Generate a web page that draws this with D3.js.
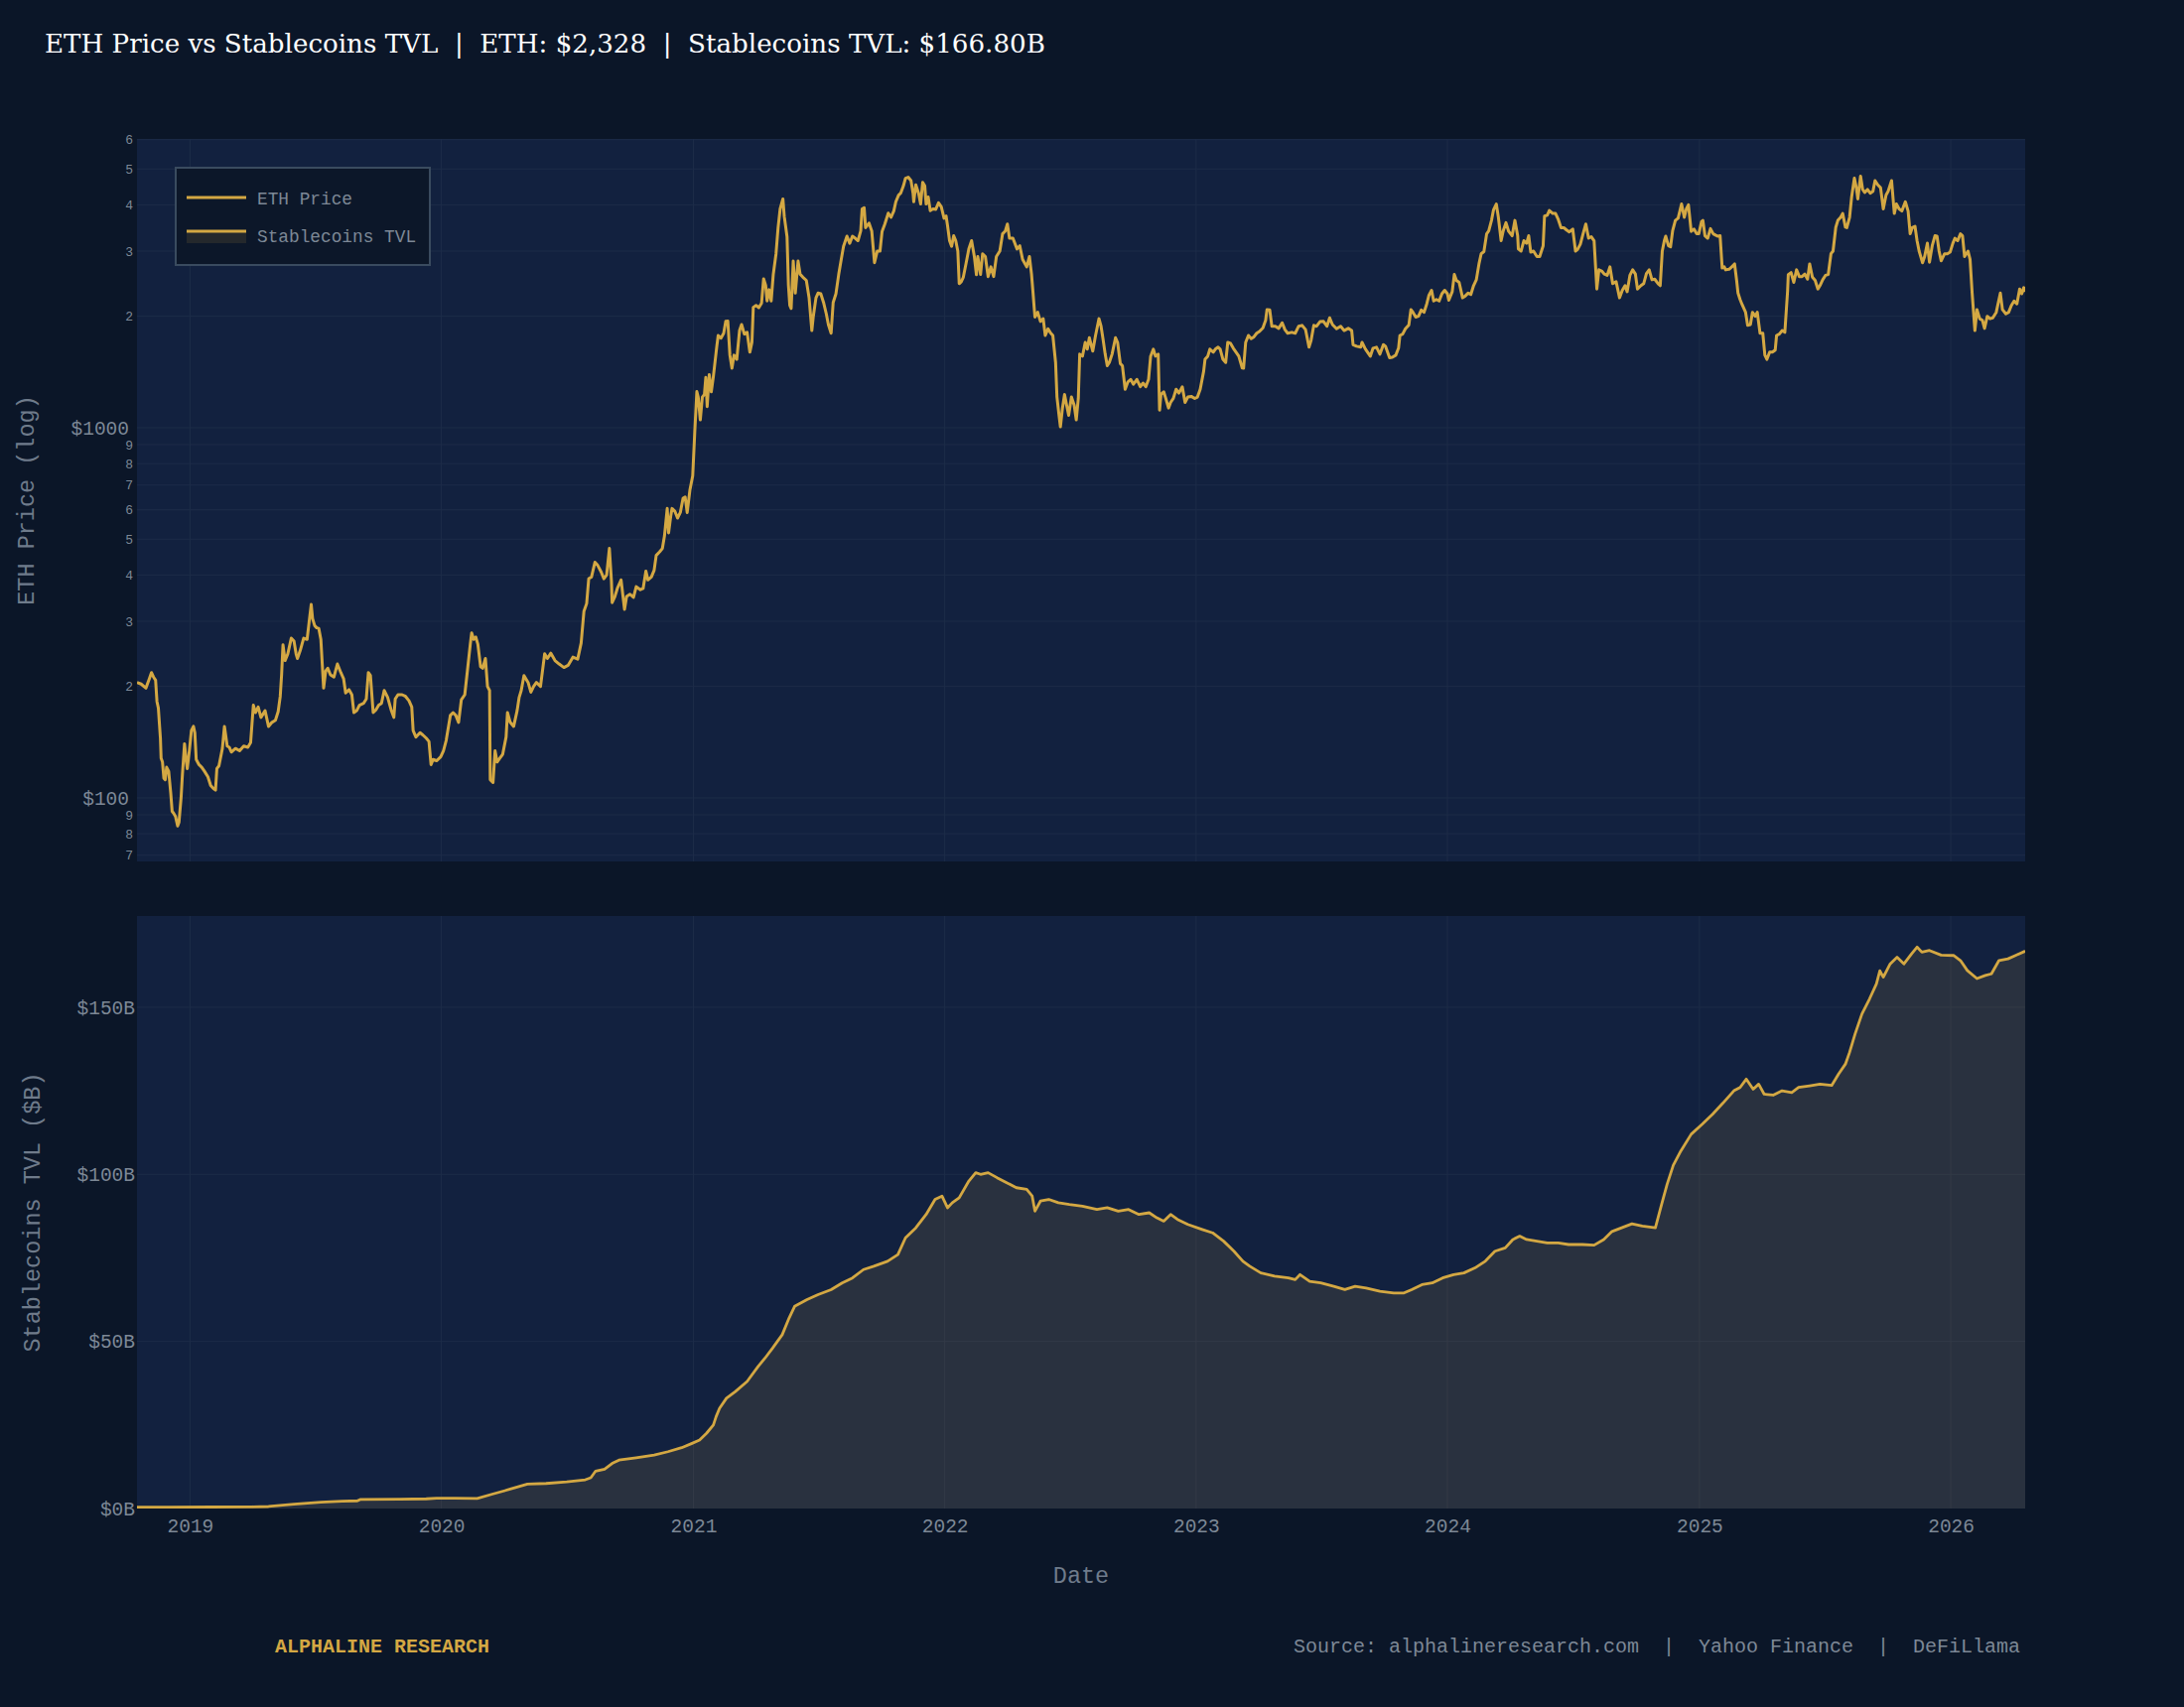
<!doctype html>
<html lang="en">
<head>
    <meta charset="UTF-8">
    <title>ETH Price vs Stablecoins TVL</title>
    <script src="https://d3js.org/d3.v7.min.js"></script>
    <style>
      html, body { margin: 0; padding: 0; background: #0b1628; }
    </style>
</head>
<body>
    <div id="chart"></div>

    <script>

      // ETH close price (USD)
      const ethPrice = [
        ["2018-10-16",205],["2018-10-22",203],["2018-10-29",198],["2018-11-03",210],["2018-11-06",218],["2018-11-09",212],
        ["2018-11-12",208],["2018-11-14",182],["2018-11-16",175],["2018-11-19",145],["2018-11-20",128],["2018-11-22",125],
        ["2018-11-24",113],["2018-11-26",112],["2018-11-28",121],["2018-12-01",118],["2018-12-04",103],["2018-12-06",92],
        ["2018-12-08",91],["2018-12-11",89],["2018-12-14",84],["2018-12-16",86],["2018-12-19",100],["2018-12-21",116],
        ["2018-12-24",140],["2018-12-26",128],["2018-12-28",120],["2018-12-31",134],
        ["2019-01-03",152],["2019-01-06",156],["2019-01-08",150],["2019-01-10",127],["2019-01-14",123],["2019-01-18",121],
        ["2019-01-22",118],["2019-01-27",114],["2019-01-31",108],["2019-02-04",106],["2019-02-07",105],["2019-02-09",120],
        ["2019-02-12",122],["2019-02-17",136],["2019-02-20",156],["2019-02-24",138],["2019-02-27",137],["2019-03-02",133],
        ["2019-03-08",136],["2019-03-14",134],["2019-03-20",138],["2019-03-26",137],["2019-03-30",141],["2019-04-03",178],
        ["2019-04-06",170],["2019-04-10",176],["2019-04-14",165],["2019-04-20",172],["2019-04-25",156],["2019-04-30",160],
        ["2019-05-05",162],["2019-05-09",171],["2019-05-12",188],["2019-05-14",215],["2019-05-16",259],["2019-05-19",235],
        ["2019-05-23",245],["2019-05-28",270],["2019-06-01",265],["2019-06-04",245],["2019-06-06",238],["2019-06-10",250],
        ["2019-06-15",270],["2019-06-20",268],["2019-06-24",310],["2019-06-26",333],["2019-06-28",305],["2019-07-01",292],
        ["2019-07-04",288],["2019-07-07",287],["2019-07-10",268],["2019-07-14",198],["2019-07-17",220],["2019-07-20",224],
        ["2019-07-24",215],["2019-07-29",212],["2019-08-03",230],["2019-08-08",218],["2019-08-12",210],["2019-08-15",192],
        ["2019-08-20",196],["2019-08-24",190],["2019-08-27",170],["2019-08-31",172],["2019-09-04",178],["2019-09-10",180],
        ["2019-09-14",185],["2019-09-17",218],["2019-09-20",214],["2019-09-24",170],["2019-09-28",173],["2019-10-02",178],
        ["2019-10-06",180],["2019-10-10",195],["2019-10-15",187],["2019-10-20",173],["2019-10-24",165],["2019-10-26",185],
        ["2019-10-30",190],["2019-11-05",190],["2019-11-10",188],["2019-11-15",183],["2019-11-19",176],["2019-11-21",152],
        ["2019-11-25",146],["2019-12-01",150],["2019-12-05",148],["2019-12-10",145],["2019-12-14",142],["2019-12-17",123],
        ["2019-12-20",127],["2019-12-25",126],["2019-12-31",129],
        ["2020-01-04",134],["2020-01-08",143],["2020-01-14",167],["2020-01-18",170],["2020-01-22",167],["2020-01-26",160],
        ["2020-01-30",184],["2020-02-04",190],["2020-02-08",222],["2020-02-12",260],["2020-02-14",279],["2020-02-17",268],
        ["2020-02-20",272],["2020-02-23",260],["2020-02-27",226],["2020-03-01",224],["2020-03-05",238],["2020-03-08",200],
        ["2020-03-11",195],["2020-03-12",112],["2020-03-16",110],["2020-03-19",134],["2020-03-22",125],["2020-03-26",128],
        ["2020-03-30",131],["2020-04-04",146],["2020-04-06",170],["2020-04-10",160],["2020-04-15",156],["2020-04-20",172],
        ["2020-04-23",187],["2020-04-26",195],["2020-04-30",214],["2020-05-06",205],["2020-05-10",193],["2020-05-14",200],
        ["2020-05-18",205],["2020-05-24",200],["2020-05-30",245],["2020-06-03",238],["2020-06-08",246],["2020-06-14",235],
        ["2020-06-20",230],["2020-06-27",225],["2020-07-03",228],["2020-07-10",240],["2020-07-17",237],["2020-07-22",262],
        ["2020-07-26",319],["2020-07-30",335],["2020-08-02",391],["2020-08-06",395],["2020-08-11",433],["2020-08-15",425],
        ["2020-08-20",408],["2020-08-24",391],["2020-08-28",400],["2020-09-01",472],["2020-09-04",385],["2020-09-05",337],
        ["2020-09-09",350],["2020-09-13",370],["2020-09-18",388],["2020-09-23",323],["2020-09-26",350],["2020-10-01",355],
        ["2020-10-06",348],["2020-10-10",372],["2020-10-16",365],["2020-10-20",368],["2020-10-24",410],["2020-10-27",388],
        ["2020-11-01",395],["2020-11-05",412],["2020-11-08",452],["2020-11-13",462],["2020-11-17",472],["2020-11-20",510],
        ["2020-11-24",605],["2020-11-26",520],["2020-11-29",575],["2020-12-01",605],["2020-12-05",595],["2020-12-09",570],
        ["2020-12-13",590],["2020-12-17",645],["2020-12-20",650],["2020-12-23",590],["2020-12-27",680],["2020-12-31",741],
        ["2021-01-03",975],["2021-01-06",1252],["2021-01-08",1210],["2021-01-11",1050],["2021-01-14",1210],["2021-01-17",1230],
        ["2021-01-19",1367],["2021-01-21",1140],["2021-01-24",1390],["2021-01-27",1250],["2021-01-30",1375],["2021-02-04",1660],
        ["2021-02-06",1775],["2021-02-10",1745],["2021-02-14",1800],["2021-02-17",1937],["2021-02-20",1940],["2021-02-23",1570],
        ["2021-02-26",1448],["2021-03-01",1570],["2021-03-05",1530],["2021-03-09",1830],["2021-03-12",1900],["2021-03-16",1790],
        ["2021-03-20",1810],["2021-03-24",1600],["2021-03-27",1700],["2021-03-29",2115],["2021-04-02",2140],["2021-04-06",2110],
        ["2021-04-10",2170],["2021-04-13",2525],["2021-04-16",2420],["2021-04-18",2200],["2021-04-21",2360],["2021-04-24",2200],
        ["2021-04-27",2593],["2021-05-01",2950],["2021-05-04",3470],["2021-05-07",3900],["2021-05-11",4150],["2021-05-13",3720],
        ["2021-05-17",3280],["2021-05-19",2430],["2021-05-21",2140],["2021-05-23",2100],["2021-05-26",2820],["2021-05-29",2310],
        ["2021-06-02",2820],["2021-06-05",2600],["2021-06-09",2550],["2021-06-14",2500],["2021-06-18",2243],["2021-06-22",1830],
        ["2021-06-24",1990],["2021-06-28",2243],["2021-07-01",2310],["2021-07-05",2300],["2021-07-09",2180],["2021-07-13",2030],
        ["2021-07-16",1900],["2021-07-20",1800],["2021-07-23",2180],["2021-07-27",2300],["2021-07-31",2593],["2021-08-03",2800],
        ["2021-08-07",3090],["2021-08-12",3290],["2021-08-16",3150],["2021-08-20",3290],["2021-08-24",3250],["2021-08-28",3200],
        ["2021-09-01",3400],["2021-09-03",3900],["2021-09-06",3930],["2021-09-08",3470],["2021-09-13",3570],["2021-09-17",3400],
        ["2021-09-21",2790],["2021-09-25",3000],["2021-09-29",3000],["2021-10-02",3390],["2021-10-06",3550],["2021-10-11",3800],
        ["2021-10-15",3700],["2021-10-19",3850],["2021-10-22",4077],["2021-10-26",4250],["2021-10-29",4300],["2021-11-02",4500],
        ["2021-11-05",4720],["2021-11-09",4750],["2021-11-13",4650],["2021-11-16",4300],["2021-11-17",4077],["2021-11-20",4530],
        ["2021-11-24",4300],["2021-11-27",4020],["2021-11-30",4600],["2021-12-03",4500],["2021-12-05",4020],["2021-12-08",4200],
        ["2021-12-11",3860],["2021-12-15",3900],["2021-12-19",3890],["2021-12-23",4050],["2021-12-27",3950],["2021-12-31",3680],
        ["2022-01-03",3730],["2022-01-05",3520],["2022-01-08",3200],["2022-01-11",3090],["2022-01-14",3300],["2022-01-17",3200],
        ["2022-01-20",3000],["2022-01-22",2450],["2022-01-25",2480],["2022-01-28",2550],["2022-02-01",2780],["2022-02-05",3040],
        ["2022-02-09",3200],["2022-02-13",2900],["2022-02-16",2590],["2022-02-18",2900],["2022-02-22",2593],["2022-02-25",2950],
        ["2022-03-01",2900],["2022-03-05",2560],["2022-03-09",2720],["2022-03-13",2560],["2022-03-17",2900],["2022-03-22",3000],
        ["2022-03-26",3340],["2022-03-30",3400],["2022-04-02",3550],["2022-04-05",3250],["2022-04-10",3250],["2022-04-16",3040],
        ["2022-04-20",3100],["2022-04-24",2850],["2022-04-30",2720],["2022-05-04",2900],["2022-05-07",2600],["2022-05-09",2345],
        ["2022-05-11",2100],["2022-05-12",1990],["2022-05-16",2050],["2022-05-20",1937],["2022-05-24",1970],["2022-05-27",1775],
        ["2022-05-31",1850],["2022-06-04",1800],["2022-06-07",1775],["2022-06-11",1500],["2022-06-13",1210],["2022-06-16",1080],
        ["2022-06-18",1006],["2022-06-21",1130],["2022-06-24",1230],["2022-06-27",1150],["2022-06-30",1080],["2022-07-04",1210],
        ["2022-07-08",1150],["2022-07-11",1050],["2022-07-14",1200],["2022-07-16",1580],["2022-07-20",1560],["2022-07-24",1700],
        ["2022-07-27",1630],["2022-07-30",1750],["2022-08-04",1610],["2022-08-08",1775],["2022-08-13",1970],["2022-08-16",1880],
        ["2022-08-19",1730],["2022-08-22",1580],["2022-08-25",1470],["2022-08-28",1500],["2022-09-01",1580],["2022-09-06",1750],
        ["2022-09-09",1700],["2022-09-13",1490],["2022-09-16",1470],["2022-09-20",1270],["2022-09-24",1330],["2022-09-28",1350],
        ["2022-10-02",1310],["2022-10-07",1350],["2022-10-12",1290],["2022-10-16",1320],["2022-10-20",1290],["2022-10-24",1350],
        ["2022-10-27",1560],["2022-10-31",1630],["2022-11-03",1560],["2022-11-07",1580],["2022-11-09",1115],["2022-11-11",1230],
        ["2022-11-15",1250],["2022-11-18",1200],["2022-11-22",1130],["2022-11-25",1170],["2022-11-29",1200],["2022-12-03",1270],
        ["2022-12-07",1240],["2022-12-12",1290],["2022-12-16",1170],["2022-12-20",1210],["2022-12-25",1215],["2022-12-30",1200],
        ["2023-01-03",1210],["2023-01-07",1270],["2023-01-12",1420],["2023-01-14",1530],["2023-01-18",1560],["2023-01-21",1630],
        ["2023-01-26",1600],["2023-01-29",1630],["2023-02-02",1650],["2023-02-05",1630],["2023-02-09",1530],["2023-02-13",1500],
        ["2023-02-16",1700],["2023-02-20",1690],["2023-02-24",1640],["2023-02-28",1600],["2023-03-04",1560],["2023-03-09",1450],
        ["2023-03-11",1448],["2023-03-14",1700],["2023-03-18",1775],["2023-03-22",1740],["2023-03-26",1760],["2023-03-30",1800],
        ["2023-04-03",1820],["2023-04-08",1860],["2023-04-12",1950],["2023-04-14",2085],["2023-04-18",2080],["2023-04-21",1880],
        ["2023-04-26",1880],["2023-05-01",1855],["2023-05-06",1920],["2023-05-10",1840],["2023-05-14",1800],["2023-05-20",1810],
        ["2023-05-25",1800],["2023-05-30",1880],["2023-06-04",1890],["2023-06-09",1840],["2023-06-14",1650],["2023-06-17",1720],
        ["2023-06-21",1890],["2023-06-25",1880],["2023-06-30",1935],["2023-07-05",1937],["2023-07-10",1880],["2023-07-14",1980],
        ["2023-07-18",1900],["2023-07-24",1850],["2023-07-30",1880],["2023-08-04",1830],["2023-08-10",1855],["2023-08-15",1830],
        ["2023-08-17",1676],["2023-08-22",1660],["2023-08-28",1650],["2023-08-30",1700],["2023-09-04",1630],["2023-09-11",1560],
        ["2023-09-15",1640],["2023-09-20",1650],["2023-09-25",1580],["2023-09-30",1676],["2023-10-03",1660],["2023-10-09",1545],
        ["2023-10-13",1550],["2023-10-18",1570],["2023-10-22",1640],["2023-10-24",1775],["2023-10-28",1790],["2023-11-01",1850],
        ["2023-11-06",1895],["2023-11-09",2085],["2023-11-12",2050],["2023-11-16",1990],["2023-11-20",2000],["2023-11-24",2080],
        ["2023-11-28",2050],["2023-12-02",2160],["2023-12-05",2275],["2023-12-09",2350],["2023-12-12",2200],["2023-12-16",2220],
        ["2023-12-20",2200],["2023-12-24",2300],["2023-12-28",2350],
        ["2024-01-01",2300],["2024-01-03",2210],["2024-01-08",2330],["2024-01-11",2593],["2024-01-14",2500],["2024-01-18",2470],
        ["2024-01-23",2243],["2024-01-27",2270],["2024-01-31",2310],["2024-02-04",2290],["2024-02-08",2420],["2024-02-12",2510],
        ["2024-02-16",2780],["2024-02-19",2950],["2024-02-23",2990],["2024-02-27",3340],["2024-03-01",3400],["2024-03-05",3630],
        ["2024-03-08",3880],["2024-03-12",4020],["2024-03-15",3700],["2024-03-19",3200],["2024-03-22",3400],["2024-03-26",3580],
        ["2024-03-30",3390],["2024-04-04",3300],["2024-04-08",3630],["2024-04-12",3300],["2024-04-13",3040],["2024-04-17",3000],
        ["2024-04-21",3200],["2024-04-25",3150],["2024-04-28",3300],["2024-05-01",2980],["2024-05-05",3000],["2024-05-10",2900],
        ["2024-05-14",2900],["2024-05-19",3100],["2024-05-21",3730],["2024-05-25",3750],["2024-05-28",3860],["2024-06-02",3790],
        ["2024-06-06",3790],["2024-06-10",3650],["2024-06-14",3470],["2024-06-18",3470],["2024-06-22",3420],["2024-06-26",3380],
        ["2024-07-01",3440],["2024-07-05",3000],["2024-07-08",3030],["2024-07-12",3130],["2024-07-16",3340],["2024-07-20",3550],
        ["2024-07-24",3250],["2024-07-28",3280],["2024-08-01",3200],["2024-08-05",2370],["2024-08-08",2670],["2024-08-12",2650],
        ["2024-08-16",2600],["2024-08-20",2580],["2024-08-24",2720],["2024-08-28",2450],["2024-09-02",2480],["2024-09-07",2243],
        ["2024-09-11",2350],["2024-09-15",2420],["2024-09-18",2330],["2024-09-22",2580],["2024-09-26",2670],["2024-09-30",2600],
        ["2024-10-03",2370],["2024-10-08",2420],["2024-10-12",2450],["2024-10-16",2610],["2024-10-20",2670],["2024-10-24",2510],
        ["2024-10-28",2520],["2024-11-02",2450],["2024-11-05",2420],["2024-11-08",3000],["2024-11-11",3200],["2024-11-13",3290],
        ["2024-11-17",3100],["2024-11-20",3080],["2024-11-23",3400],["2024-11-27",3630],["2024-12-01",3680],["2024-12-06",4020],
        ["2024-12-10",3700],["2024-12-13",3900],["2024-12-16",4000],["2024-12-20",3390],["2024-12-24",3440],["2024-12-28",3340],
        ["2024-12-31",3340],
        ["2025-01-04",3600],["2025-01-06",3630],["2025-01-09",3300],["2025-01-13",3250],["2025-01-17",3450],["2025-01-21",3340],
        ["2025-01-25",3310],["2025-01-28",3290],["2025-01-31",3300],["2025-02-03",2700],["2025-02-06",2720],["2025-02-08",2670],
        ["2025-02-13",2680],["2025-02-17",2720],["2025-02-21",2770],["2025-02-24",2500],["2025-02-26",2310],["2025-03-01",2220],
        ["2025-03-04",2150],["2025-03-09",2050],["2025-03-12",1890],["2025-03-16",1900],["2025-03-19",2050],["2025-03-23",2000],
        ["2025-03-26",2050],["2025-03-30",1800],["2025-04-03",1800],["2025-04-06",1570],["2025-04-09",1530],["2025-04-13",1600],
        ["2025-04-17",1600],["2025-04-21",1620],["2025-04-23",1775],["2025-04-27",1790],["2025-05-01",1830],["2025-05-05",1810],
        ["2025-05-09",2340],["2025-05-10",2593],["2025-05-14",2625],["2025-05-18",2470],["2025-05-22",2670],["2025-05-26",2560],
        ["2025-05-30",2560],["2025-06-03",2600],["2025-06-07",2520],["2025-06-10",2770],["2025-06-14",2550],["2025-06-18",2500],
        ["2025-06-22",2370],["2025-06-25",2420],["2025-06-29",2510],["2025-07-03",2580],["2025-07-07",2593],["2025-07-11",2950],
        ["2025-07-14",3000],["2025-07-18",3480],["2025-07-21",3630],["2025-07-25",3700],["2025-07-28",3790],["2025-08-01",3480],
        ["2025-08-03",3470],["2025-08-07",3700],["2025-08-10",4200],["2025-08-14",4720],["2025-08-17",4430],["2025-08-19",4150],
        ["2025-08-23",4780],["2025-08-26",4400],["2025-08-29",4320],["2025-09-02",4400],["2025-09-06",4300],["2025-09-10",4350],
        ["2025-09-13",4650],["2025-09-17",4530],["2025-09-21",4450],["2025-09-25",3900],["2025-09-29",4250],["2025-10-02",4350],
        ["2025-10-07",4650],["2025-10-11",3790],["2025-10-14",4020],["2025-10-18",3900],["2025-10-22",3850],["2025-10-27",4077],
        ["2025-10-31",3850],["2025-11-03",3340],["2025-11-06",3470],["2025-11-10",3500],["2025-11-13",3200],["2025-11-16",3000],
        ["2025-11-21",2790],["2025-11-24",2900],["2025-11-28",3150],["2025-12-01",2800],["2025-12-05",3100],["2025-12-09",3300],
        ["2025-12-12",3290],["2025-12-15",3000],["2025-12-18",2825],["2025-12-23",2950],["2025-12-27",2950],["2025-12-31",2980],
        ["2026-01-04",3150],["2026-01-07",3250],["2026-01-11",3200],["2026-01-15",3340],["2026-01-18",3300],["2026-01-21",2900],
        ["2026-01-26",3000],["2026-01-29",2850],["2026-02-01",2310],["2026-02-05",1830],["2026-02-08",2085],["2026-02-12",1970],
        ["2026-02-16",1950],["2026-02-19",1855],["2026-02-23",2000],["2026-02-27",1970],["2026-03-03",1980],["2026-03-08",2050],
        ["2026-03-14",2310],["2026-03-17",2085],["2026-03-22",2030],["2026-03-26",2050],["2026-03-30",2140],["2026-04-03",2200],
        ["2026-04-07",2160],["2026-04-11",2370],["2026-04-14",2300],["2026-04-17",2390],["2026-04-19",2328]
      ];

      // Stablecoins TVL ($B)
      const tvlBillions = [
        ["2018-10-16",0.4],["2018-12-01",0.4],["2019-02-01",0.45],["2019-04-01",0.5],["2019-04-25",0.6],["2019-06-01",1.3],
        ["2019-07-10",1.9],["2019-08-10",2.2],["2019-09-01",2.3],["2019-09-05",2.7],["2019-11-01",2.8],["2019-12-10",2.9],
        ["2019-12-25",3.1],["2020-01-20",3.1],["2020-02-22",3.0],["2020-03-15",4.3],["2020-04-10",5.8],["2020-05-05",7.3],
        ["2020-06-01",7.5],["2020-07-01",8.0],["2020-07-28",8.6],["2020-08-05",9.2],["2020-08-12",11.2],["2020-08-25",11.8],
        ["2020-09-05",13.5],["2020-09-15",14.5],["2020-10-10",15.2],["2020-11-05",16.0],["2020-11-25",17.0],["2020-12-15",18.2],
        ["2020-12-30",19.5],["2021-01-10",20.5],["2021-01-20",22.5],["2021-01-30",25.0],["2021-02-03",27.5],["2021-02-08",30.0],
        ["2021-02-18",33.0],["2021-03-03",35.0],["2021-03-20",38.0],["2021-04-05",42.5],["2021-04-15",45.0],["2021-04-26",48.0],
        ["2021-05-10",52.0],["2021-05-20",57.0],["2021-05-28",60.5],["2021-06-15",62.5],["2021-07-01",64.0],["2021-07-20",65.5],
        ["2021-08-05",67.5],["2021-08-20",69.0],["2021-09-05",71.5],["2021-09-20",72.5],["2021-10-10",74.0],["2021-10-25",76.0],
        ["2021-11-05",81.0],["2021-11-20",84.0],["2021-12-05",88.0],["2021-12-18",92.5],["2021-12-28",93.5],["2022-01-05",90.0],
        ["2022-01-12",91.5],["2022-01-22",93.0],["2022-02-05",98.0],["2022-02-15",100.5],["2022-02-22",100.0],["2022-03-05",100.5],
        ["2022-03-18",99.0],["2022-04-01",97.5],["2022-04-15",96.0],["2022-04-30",95.5],["2022-05-08",93.5],["2022-05-12",89.0],
        ["2022-05-20",92.0],["2022-06-01",92.5],["2022-06-15",91.5],["2022-07-01",91.0],["2022-07-20",90.5],["2022-08-10",89.5],
        ["2022-08-25",90.0],["2022-09-10",89.0],["2022-09-25",89.5],["2022-10-10",88.0],["2022-10-25",88.5],["2022-11-05",87.0],
        ["2022-11-15",86.0],["2022-11-25",88.0],["2022-12-05",86.5],["2022-12-20",85.0],["2023-01-10",83.5],["2023-01-25",82.5],
        ["2023-02-10",80.0],["2023-02-25",77.0],["2023-03-10",74.0],["2023-03-20",72.5],["2023-04-05",70.5],["2023-04-25",69.5],
        ["2023-05-15",69.0],["2023-05-25",68.5],["2023-06-01",70.0],["2023-06-15",68.0],["2023-07-01",67.5],["2023-07-20",66.5],
        ["2023-08-05",65.5],["2023-08-20",66.5],["2023-09-05",66.0],["2023-09-25",65.0],["2023-10-15",64.5],["2023-10-30",64.5],
        ["2023-11-10",65.5],["2023-11-25",67.0],["2023-12-10",67.5],["2023-12-25",69.0],["2024-01-10",70.0],["2024-01-25",70.5],
        ["2024-02-10",72.0],["2024-02-25",74.0],["2024-03-10",77.0],["2024-03-25",78.0],["2024-04-05",80.5],["2024-04-15",81.5],
        ["2024-04-25",80.5],["2024-05-10",80.0],["2024-05-25",79.5],["2024-06-10",79.5],["2024-06-25",79.0],["2024-07-15",79.0],
        ["2024-08-01",78.8],["2024-08-15",80.5],["2024-08-27",82.9],["2024-09-10",84.0],["2024-09-25",85.2],["2024-10-10",84.5],
        ["2024-10-29",84.0],["2024-11-07",91.0],["2024-11-15",97.0],["2024-11-24",102.7],["2024-12-05",107.0],["2024-12-20",112.0],
        ["2025-01-05",115.0],["2025-01-20",118.0],["2025-02-04",121.3],["2025-02-20",125.0],["2025-03-01",126.0],["2025-03-10",128.5],
        ["2025-03-20",125.5],["2025-03-28",127.0],["2025-04-05",124.0],["2025-04-18",123.7],["2025-05-01",125.0],["2025-05-15",124.5],
        ["2025-05-25",126.0],["2025-06-10",126.5],["2025-06-25",127.0],["2025-07-12",126.6],["2025-07-22",130.0],["2025-08-01",133.0],
        ["2025-08-07",136.5],["2025-08-15",142.0],["2025-08-25",148.0],["2025-09-05",152.5],["2025-09-15",157.0],["2025-09-20",160.9],
        ["2025-09-25",159.0],["2025-10-05",163.0],["2025-10-15",165.0],["2025-10-25",163.0],["2025-11-05",166.0],["2025-11-13",168.0],
        ["2025-11-20",166.5],["2025-12-01",167.0],["2025-12-18",165.6],["2026-01-05",165.5],["2026-01-15",164.0],["2026-01-25",161.0],
        ["2026-02-08",158.6],["2026-02-20",159.5],["2026-03-01",160.0],["2026-03-12",164.0],["2026-03-25",164.5],["2026-04-05",165.5],
        ["2026-04-19",166.8]
      ];

      const ethMajorTicks = [100, 1000];
      const tvlTicks = [0, 50, 100, 150];
      const titleText = "ETH Price vs Stablecoins TVL  |  ETH: $2,328  |  Stablecoins TVL: $166.80B";
      const sourceText = "Source: alphalineresearch.com  |  Yahoo Finance  |  DeFiLlama";

      // Colours
      const bgColor = '#0b1628';
      const plotBg = '#12213f';
      const gridColor = '#1d2c48';
      const gold = '#d4a843';
      const tickColor = '#7d8896';
      const mono = "'Liberation Mono', 'Courier New', monospace";

      // Layout
      const width = 2200, height = 1720;
      const left = 138, right = 2040;
      const top1 = 140, bottom1 = 868;
      const top2 = 923, bottom2 = 1520;

      const parseDate = d3.timeParse('%Y-%m-%d');
      const eth = ethPrice.map(d => ({ date: parseDate(d[0]), value: d[1] }));
      const tvl = tvlBillions.map(d => ({ date: parseDate(d[0]), value: d[1] }));

      const x = d3.scaleTime()
          .domain([eth[0].date, eth[eth.length - 1].date])
          .range([left, right]);

      const yEth = d3.scaleLog()
          .domain([67.35, 6026])
          .range([bottom1, top1]);

      const yTvl = d3.scaleLinear()
          .domain([0, 177.3])
          .range([bottom2, top2]);

      const svg = d3.select('#chart')
          .append('svg')
          .attr('width', width)
          .attr('height', height)
          .style('display', 'block');

      svg.append('rect')
          .attr('width', width)
          .attr('height', height)
          .attr('fill', bgColor);

      // Plot backgrounds
      svg.append('rect')
          .attr('x', left).attr('y', top1)
          .attr('width', right - left).attr('height', bottom1 - top1)
          .attr('fill', plotBg);
      svg.append('rect')
          .attr('x', left).attr('y', top2)
          .attr('width', right - left).attr('height', bottom2 - top2)
          .attr('fill', plotBg);

      const defs = svg.append('defs');
      defs.append('clipPath').attr('id', 'clip1')
          .append('rect').attr('x', left).attr('y', top1)
          .attr('width', right - left).attr('height', bottom1 - top1);
      defs.append('clipPath').attr('id', 'clip2')
          .append('rect').attr('x', left).attr('y', top2 - 2)
          .attr('width', right - left).attr('height', bottom2 - top2 + 2);

      const yearTicks = x.ticks(d3.timeYear.every(1));
      const ethTicks = yEth.ticks();

      // Gridlines, top panel
      svg.append('g')
          .selectAll('line')
          .data(ethTicks)
          .join('line')
          .attr('x1', left).attr('x2', right)
          .attr('y1', d => yEth(d)).attr('y2', d => yEth(d))
          .attr('stroke', gridColor).attr('stroke-width', 1);
      svg.append('g')
          .selectAll('line')
          .data(yearTicks)
          .join('line')
          .attr('x1', d => x(d)).attr('x2', d => x(d))
          .attr('y1', top1).attr('y2', bottom1)
          .attr('stroke', gridColor).attr('stroke-width', 1);

      // Gridlines, bottom panel
      svg.append('g')
          .selectAll('line')
          .data(tvlTicks.slice(1))
          .join('line')
          .attr('x1', left).attr('x2', right)
          .attr('y1', d => yTvl(d)).attr('y2', d => yTvl(d))
          .attr('stroke', gridColor).attr('stroke-width', 1);
      svg.append('g')
          .selectAll('line')
          .data(yearTicks)
          .join('line')
          .attr('x1', d => x(d)).attr('x2', d => x(d))
          .attr('y1', top2).attr('y2', bottom2)
          .attr('stroke', gridColor).attr('stroke-width', 1);

      // ETH line
      const ethLine = d3.line()
          .x(d => x(d.date))
          .y(d => yEth(d.value));

      svg.append('path')
          .datum(eth)
          .attr('clip-path', 'url(#clip1)')
          .attr('fill', 'none')
          .attr('stroke', gold)
          .attr('stroke-width', 3)
          .attr('stroke-linejoin', 'round')
          .attr('d', ethLine);

      // TVL area + line
      const tvlArea = d3.area()
          .x(d => x(d.date))
          .y0(yTvl(0))
          .y1(d => yTvl(d.value));
      const tvlLine = d3.line()
          .x(d => x(d.date))
          .y(d => yTvl(d.value));

      svg.append('path')
          .datum(tvl)
          .attr('clip-path', 'url(#clip2)')
          .attr('fill', 'rgba(212,168,67,0.12)')
          .attr('d', tvlArea);
      svg.append('path')
          .datum(tvl)
          .attr('clip-path', 'url(#clip2)')
          .attr('fill', 'none')
          .attr('stroke', gold)
          .attr('stroke-width', 2.8)
          .attr('stroke-linejoin', 'round')
          .attr('d', tvlLine);

      // Y axis, top (log)
      const isMajor = d => ethMajorTicks.includes(d);
      const yAxis1 = svg.append('g')
          .attr('transform', `translate(${left},0)`)
          .call(d3.axisLeft(yEth)
              .tickValues(ethTicks)
              .tickSize(0)
              .tickPadding(0)
              .tickFormat(d => isMajor(d) ? '$' + d : String(d).charAt(0)));
      yAxis1.select('.domain').remove();
      yAxis1.selectAll('text')
          .attr('x', d => isMajor(d) ? -8 : -4)
          .attr('fill', tickColor)
          .style('font-family', mono)
          .style('font-size', d => isMajor(d) ? '19.5px' : '13px');

      // Y axis, bottom
      const yAxis2 = svg.append('g')
          .attr('transform', `translate(${left},0)`)
          .call(d3.axisLeft(yTvl)
              .tickValues(tvlTicks)
              .tickSize(0)
              .tickPadding(2)
              .tickFormat(d => '$' + d + 'B'));
      yAxis2.select('.domain').remove();
      yAxis2.selectAll('text')
          .attr('fill', tickColor)
          .style('font-family', mono)
          .style('font-size', '19.5px');

      // X axis
      const xAxis = svg.append('g')
          .attr('transform', `translate(0,${bottom2})`)
          .call(d3.axisBottom(x)
              .tickValues(yearTicks)
              .tickSize(0)
              .tickPadding(10)
              .tickFormat(d3.timeFormat('%Y')));
      xAxis.select('.domain').remove();
      xAxis.selectAll('text')
          .attr('fill', tickColor)
          .style('font-family', mono)
          .style('font-size', '19.5px');

      // Axis titles
      svg.append('text')
          .attr('transform', `translate(34,${(top1 + bottom1) / 2}) rotate(-90)`)
          .attr('text-anchor', 'middle')
          .attr('fill', '#6f7b8b')
          .style('font-family', mono)
          .style('font-size', '23.5px')
          .text('ETH Price (log)');

      svg.append('text')
          .attr('transform', `translate(40,${(top2 + bottom2) / 2}) rotate(-90)`)
          .attr('text-anchor', 'middle')
          .attr('fill', '#6f7b8b')
          .style('font-family', mono)
          .style('font-size', '23.5px')
          .text('Stablecoins TVL ($B)');

      svg.append('text')
          .attr('x', (left + right) / 2)
          .attr('y', 1595)
          .attr('text-anchor', 'middle')
          .attr('fill', '#6f7b8b')
          .style('font-family', mono)
          .style('font-size', '23.5px')
          .text('Date');

      // Legend
      const legend = svg.append('g');
      legend.append('rect')
          .attr('x', 177).attr('y', 169)
          .attr('width', 256).attr('height', 98)
          .attr('fill', '#0c1729')
          .attr('stroke', '#3a4b5f')
          .attr('stroke-width', 2);
      legend.append('line')
          .attr('x1', 188).attr('x2', 248)
          .attr('y1', 199).attr('y2', 199)
          .attr('stroke', gold).attr('stroke-width', 3);
      legend.append('rect')
          .attr('x', 188).attr('y', 233)
          .attr('width', 60).attr('height', 12)
          .attr('fill', 'rgba(212,168,67,0.12)');
      legend.append('line')
          .attr('x1', 188).attr('x2', 248)
          .attr('y1', 233).attr('y2', 233)
          .attr('stroke', gold).attr('stroke-width', 3);
      legend.selectAll('text.lg')
          .data([['ETH Price', 201], ['Stablecoins TVL', 239]])
          .join('text')
          .attr('class', 'lg')
          .attr('x', 259)
          .attr('y', d => d[1])
          .attr('dominant-baseline', 'middle')
          .attr('fill', tickColor)
          .style('font-family', mono)
          .style('font-size', '17.8px')
          .text(d => d[0]);

      // Title
      const title = svg.append('text')
          .attr('x', 45)
          .attr('y', 53)
          .attr('fill', '#ffffff')
          .style('font-family', "'DejaVu Serif', Georgia, serif")
          .style('font-size', '26px')
          .style('white-space', 'pre')
          .attr('xml:space', 'preserve')
          .text(titleText);
      // scale the font so the title spans the same width as the reference
      const tw = title.node().getComputedTextLength();
      title.style('font-size', (26 * 1008 / tw).toFixed(2) + 'px');

      // Footer
      svg.append('text')
          .attr('x', 277)
          .attr('y', 1665)
          .attr('fill', gold)
          .style('font-family', mono)
          .style('font-size', '20px')
          .style('font-weight', 'bold')
          .text('ALPHALINE RESEARCH');

      svg.append('text')
          .attr('x', 2035)
          .attr('y', 1665)
          .attr('text-anchor', 'end')
          .attr('fill', tickColor)
          .style('font-family', mono)
          .style('font-size', '20px')
          .style('white-space', 'pre')
          .attr('xml:space', 'preserve')
          .text(sourceText);

    </script>

</body>
</html>
